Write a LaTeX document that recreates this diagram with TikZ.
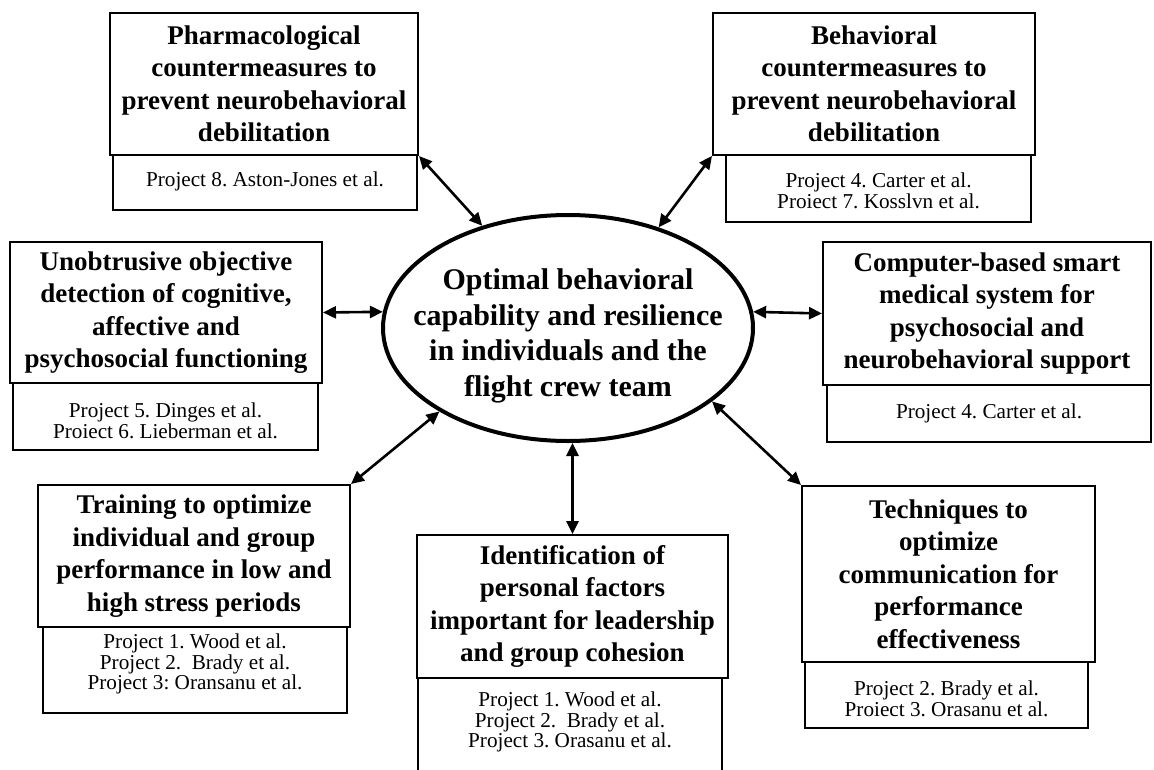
\documentclass[tikz,border=0pt]{standalone}
\usepackage{fontspec}
\setmainfont{Liberation Serif}
\usetikzlibrary{arrows.meta,shapes.geometric}
\frenchspacing
\tikzset{
  titlebox/.style={draw=black, line width=2pt, inner sep=0pt, align=center,
    font=\fontsize{27}{32.5}\selectfont\bfseries},
  subbox/.style={draw=black, line width=1.4pt, inner sep=0pt},
  subtext/.style={inner sep=0pt, align=center, font=\fontsize{21.2}{20.5}\selectfont},
  mainell/.style={draw=black, ellipse, line width=4pt, inner sep=0pt,
    minimum width=370pt, minimum height=226pt},
  maintext/.style={inner sep=0pt, align=center, font=\fontsize{30}{35.5}\selectfont\bfseries},
  link/.style={line width=2.6pt, {Triangle[length=13pt,width=12pt]}-{Triangle[length=13pt,width=12pt]}}
}
\begin{document}
\begin{tikzpicture}[x=1pt,y=-1pt]
\useasboundingbox[fill=white] (0,0) rectangle (1154,769);

% central ellipse
\node[mainell] (ell) at (568,328) {};
\node[maintext] (elltext) at (568,336) {Optimal behavioral\\capability and resilience\\in individuals and the\\flight crew team};

% 1 Pharmacological
\node[titlebox, minimum width=308pt, minimum height=142pt] (pharm) at (264,84) {Pharmacological\\countermeasures to\\prevent neurobehavioral\\debilitation};
\node[subbox, minimum width=304pt, minimum height=55pt] (pharmS) at (265,182.5) {};
\node[subtext] (pharmP) at (265,181) {Project 8. Aston-Jones et al.};

% 2 Behavioral
\node[titlebox, minimum width=322pt, minimum height=142pt] (behav) at (874,84) {Behavioral\\countermeasures to\\prevent neurobehavioral\\debilitation};
\node[subbox, minimum width=305pt, minimum height=67pt] (behavS) at (878.5,188.5) {};
\node[subtext] (behavP) at (878.5,191) {Project 4. Carter et al.\\Proiect 7. Kosslvn et al.};

% 3 Unobtrusive
\node[titlebox, minimum width=312pt, minimum height=141pt] (unob) at (166,312.5) {Unobtrusive objective\\detection of cognitive,\\affective and\\psychosocial functioning};
\node[subbox, minimum width=305pt, minimum height=67pt] (unobS) at (165.5,416.5) {};
\node[subtext] (unobP) at (165.5,421) {Project 5. Dinges et al.\\Proiect 6. Lieberman et al.};

% 4 Computer-based
\node[titlebox, minimum width=328pt, minimum height=143pt] (comp) at (987,313.5) {Computer-based smart\\medical system for\\psychosocial and\\neurobehavioral support};
\node[subbox, minimum width=324pt, minimum height=57pt] (compS) at (989,413.5) {};
\node[subtext] (compP) at (989,413) {Project 4. Carter et al.};

% 5 Training
\node[titlebox, minimum width=312pt, minimum height=142pt] (train) at (194,556) {Training to optimize\\individual and group\\performance in low and\\high stress periods};
\node[subbox, minimum width=304pt, minimum height=86pt] (trainS) at (195,670) {};
\node[subtext] (trainP) at (195,664) {Project 1. Wood et al.\\Project 2.\ \ Brady et al.\\Project 3: Oransanu et al.};

% 6 Identification
\node[titlebox, minimum width=311pt, minimum height=143pt] (ident) at (572.5,606.5) {Identification of\\personal factors\\important for leadership\\and group cohesion};
\node[subbox, minimum width=304pt, minimum height=97pt] (identS) at (570,726.5) {};
\node[subtext] (identP) at (570,722) {Project 1. Wood et al.\\Project 2.\ \ Brady et al.\\Project 3. Orasanu et al.};

% 7 Techniques
\node[titlebox, minimum width=293pt, minimum height=176pt] (tech) at (948.5,574) {Techniques to\\optimize\\communication for\\performance\\effectiveness};
\node[subbox, minimum width=283pt, minimum height=66pt] (techS) at (946.5,695) {};
\node[subtext] (techP) at (946.5,699) {Project 2. Brady et al.\\Proiect 3. Orasanu et al.};

% connectors
\draw[link] (pharm.south east) -- (ell.130);
\draw[link] (behav.south west) -- (ell.48);
\draw[link] (unob.east) -- (ell.175);
\draw[link] (comp.west) -- (ell.5);
\draw[link] (train.north east) -- (ell.213);
\draw[link] (ident.north) -- (ident.north |- ell.south);
\draw[link] (tech.north west) -- (ell.-27);
\end{tikzpicture}
\end{document}
